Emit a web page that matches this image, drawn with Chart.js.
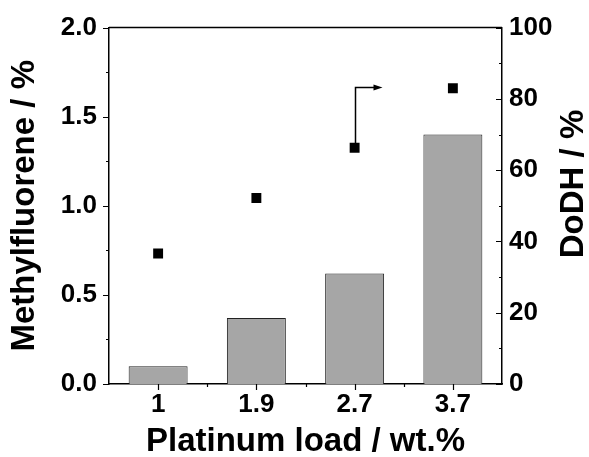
<!DOCTYPE html>
<html>
<head>
<meta charset="utf-8">
<script src="https://cdn.jsdelivr.net/npm/chart.js@4"></script>
<style>
  html, body { margin: 0; padding: 0; background: #fff; }
  #wrap { width: 589px; height: 457px; }
</style>
</head>
<body>
<div id="wrap"><canvas id="chart" width="589" height="457"></canvas></div>
<script>
// data
const loads = ['1', '1.9', '2.7', '3.7'];
const methylfluorene = [0.1, 0.37, 0.62, 1.4];   // left axis, bars
const dodh = [36.6, 52.2, 66.3, 83.0];           // right axis, squares
const leftTicks = [0, 0.5, 1.0, 1.5, 2.0];
const rightTicks = [0, 20, 40, 60, 80, 100];

const FONT = "'Liberation Sans', Arial, sans-serif";
const TICK_FONT = { family: FONT, size: 26, weight: 'bold' };
const TITLE_FONT = { family: FONT, size: 33, weight: 'bold' };

// tick marks + frame + arrow + right-hand title (reads bottom to top)
const decor = {
  id: 'decor',
  afterDraw(chart) {
    const ctx = chart.ctx;
    const a = chart.chartArea;
    const x = chart.scales.x, y = chart.scales.y, y1 = chart.scales.y1;
    ctx.save();
    ctx.strokeStyle = '#000';
    ctx.lineWidth = 1.5;

    // top frame line
    ctx.beginPath();
    ctx.moveTo(a.left, a.top);
    ctx.lineTo(a.right, a.top);
    ctx.stroke();

    ctx.lineWidth = 1.2;
    ctx.beginPath();
    // left axis, outward
    for (let v = 0; v <= 2.0001; v += 0.25) {
      const py = Math.round(y.getPixelForValue(v)) + 0.5;
      const len = Math.abs(v / 0.5 - Math.round(v / 0.5)) < 1e-6 ? 6 : 3;
      ctx.moveTo(a.left, py); ctx.lineTo(a.left - len, py);
    }
    // right axis, inward
    for (let v = 0; v <= 100; v += 10) {
      const py = Math.round(y1.getPixelForValue(v)) + 0.5;
      const len = v % 20 === 0 ? 6 : 3;
      ctx.moveTo(a.right, py); ctx.lineTo(a.right - len, py);
    }
    // bottom axis, outward
    const step = (a.right - a.left) / loads.length;
    loads.forEach((l, i) => {
      const px = Math.round(x.getPixelForValue(i)) + 0.5;
      ctx.moveTo(px, a.bottom); ctx.lineTo(px, a.bottom + 6);
      if (i > 0) {
        const mx = Math.round(x.getPixelForValue(i) - step / 2) + 0.5;
        ctx.moveTo(mx, a.bottom); ctx.lineTo(mx, a.bottom + 3);
      }
    });
    ctx.stroke();

    // arrow from the 2.7 point to the right
    const ax = Math.round(x.getPixelForValue(2)) + 0.5;
    const ay0 = y1.getPixelForValue(dodh[2]);
    const ay1 = Math.round(y1.getPixelForValue(83.2)) + 0.5;
    const ax1 = ax + 27;
    ctx.lineWidth = 1.5;
    ctx.beginPath();
    ctx.moveTo(ax, ay0);
    ctx.lineTo(ax, ay1);
    ctx.lineTo(ax1 - 7, ay1);
    ctx.stroke();
    ctx.fillStyle = '#000';
    ctx.beginPath();
    ctx.moveTo(ax1, ay1);
    ctx.lineTo(ax1 - 9, ay1 - 3);
    ctx.lineTo(ax1 - 9, ay1 + 3);
    ctx.closePath();
    ctx.fill();

    // right axis title
    ctx.translate(574, 184);
    ctx.rotate(-Math.PI / 2);
    ctx.font = 'bold 33px ' + FONT;
    ctx.textAlign = 'center';
    ctx.textBaseline = 'middle';
    ctx.fillText('DoDH / %', 0, 0);
    ctx.restore();
  }
};

new Chart(document.getElementById('chart'), {
  data: {
    labels: loads,
    datasets: [
      {
        type: 'scatter',
        label: 'DoDH',
        data: dodh,
        yAxisID: 'y1',
        pointStyle: 'rect',
        pointRadius: 7,
        pointHoverRadius: 7,
        backgroundColor: '#000',
        borderColor: '#000',
        borderWidth: 0,
        showLine: false,
        order: 0
      },
      {
        type: 'bar',
        label: 'Methylfluorene',
        data: methylfluorene,
        yAxisID: 'y',
        backgroundColor: '#a6a6a6',
        borderColor: '#222',
        borderWidth: 1,
        categoryPercentage: 1.0,
        barPercentage: 0.6,
        order: 1
      }
    ]
  },
  plugins: [decor],
  options: {
    responsive: false,
    animation: false,
    events: [],
    layout: { padding: { top: 26, right: 0, left: 0, bottom: 0 } },
    plugins: { legend: { display: false }, tooltip: { enabled: false } },
    scales: {
      x: {
        type: 'category',
        offset: true,
        grid: { display: false, drawTicks: false },
        border: { display: true, color: '#000', width: 1.5 },
        ticks: { color: '#000', padding: 5, font: TICK_FONT },
        title: {
          display: true, text: 'Platinum load / wt.%', color: '#000',
          padding: { top: 0, bottom: -5 },
          font: TITLE_FONT
        },
        afterFit(s) { s.height = 73; }
      },
      y: {
        position: 'left',
        min: 0, max: 2,
        afterBuildTicks(s) { s.ticks = leftTicks.map(v => ({ value: v })); },
        grid: { display: false, drawTicks: false },
        border: { display: true, color: '#000', width: 1.5 },
        ticks: {
          color: '#000', padding: 12,
          font: TICK_FONT,
          callback: v => v.toFixed(1)
        },
        title: {
          display: true, text: 'Methylfluorene / %', color: '#000',
          padding: { top: 5, bottom: 0 },
          font: TITLE_FONT
        },
        afterFit(s) { s.width = 109; }
      },
      y1: {
        position: 'right',
        min: 0, max: 100,
        afterBuildTicks(s) { s.ticks = rightTicks.map(v => ({ value: v })); },
        grid: { display: false, drawTicks: false },
        border: { display: true, color: '#000', width: 1.5 },
        ticks: { color: '#000', padding: 7, font: TICK_FONT },
        afterFit(s) { s.width = 87; }
      }
    }
  }
});
</script>
</body>
</html>
